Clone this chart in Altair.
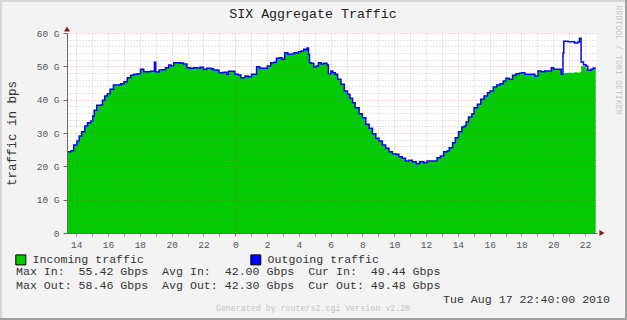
import altair as alt
import pandas as pd

NB = "\u00a0"
FONT = "Liberation Mono"

# ---- data (hours since Aug 16 00:00, values in Gbps) ----
hours = [
    13.42, 13.67, 13.84, 14.04, 14.19, 14.34, 14.54, 14.71, 14.92, 15.04,
    15.13, 15.29, 15.54, 15.65, 15.79, 15.96, 16.13, 16.34, 16.59, 16.79,
    17.00, 17.21, 17.42, 17.63, 17.84, 18.04, 18.25, 18.46, 18.67, 18.84,
    18.92, 19.00, 19.09, 19.21, 19.40, 19.61, 19.82, 19.96, 20.13, 20.34,
    20.54, 20.75, 20.96, 21.17, 21.38, 21.59, 21.79, 22.00, 22.21, 22.48,
    22.63, 22.90, 22.98, 23.25, 23.46, 23.57, 23.88, 23.98, 24.19, 24.36,
    24.61, 24.81, 25.02, 25.19, 25.34, 25.54, 25.86, 26.02, 26.23, 26.44,
    26.59, 26.79, 26.94, 27.11, 27.31, 27.52, 27.69, 27.84, 27.98, 28.15,
    28.31, 28.46, 28.52, 28.61, 28.67, 28.77, 28.94, 29.09, 29.23, 29.40,
    29.56, 29.77, 29.86, 30.02, 30.13, 30.29, 30.44, 30.65, 30.86, 31.06,
    31.21, 31.38, 31.54, 31.79, 32.00, 32.21, 32.42, 32.63, 32.84, 33.04,
    33.25, 33.46, 33.67, 33.88, 34.09, 34.29, 34.50, 34.71, 34.92, 35.13,
    35.38, 35.59, 35.86, 36.06, 36.27, 36.48, 36.69, 36.90, 37.11, 37.32,
    37.46, 37.67, 37.84, 38.04, 38.25, 38.40, 38.52, 38.67, 38.88, 39.02,
    39.23, 39.44, 39.65, 39.86, 40.02, 40.23, 40.44, 40.65, 40.86, 41.02,
    41.23, 41.44, 41.65, 41.86, 42.00, 42.21, 42.42, 42.63, 42.84, 43.04,
    43.25, 43.46, 43.73, 43.88, 44.02, 44.19, 44.40, 44.50, 44.61, 44.66,
    44.92, 45.13, 45.34, 45.54, 45.65, 45.75, 45.90, 46.06, 46.17, 46.38,
    46.52, 46.67,
]
incoming = [
    24.3, 24.6, 26.3, 27.5, 29.0, 30.3, 32.0, 33.0, 33.5, 35.0,
    36.7, 38.2, 38.3, 39.7, 41.0, 41.7, 43.0, 44.3, 44.3, 44.7,
    45.3, 46.5, 47.2, 47.5, 47.7, 49.0, 48.3, 48.3, 48.4, 48.4,
    48.2, 48.2, 48.2, 48.8, 48.9, 49.5, 50.3, 50.0, 51.0, 51.0,
    51.0, 50.6, 49.5, 49.3, 49.5, 49.4, 49.6, 49.0, 49.3, 49.2,
    48.8, 48.7, 48.0, 48.1, 47.5, 48.4, 48.4, 47.5, 47.3, 46.5,
    47.0, 46.8, 47.5, 47.5, 49.8, 49.3, 49.3, 50.0, 51.0, 51.1,
    52.3, 52.5, 52.0, 54.0, 53.5, 53.6, 54.0, 53.8, 54.3, 54.5,
    55.0, 54.8, 55.4, 53.5, 51.0, 50.8, 49.7, 50.0, 51.0, 50.6,
    50.8, 50.3, 47.7, 48.5, 48.0, 47.5, 46.0, 44.5, 42.5, 41.5,
    40.3, 39.0, 37.5, 35.7, 34.5, 32.5, 31.3, 29.7, 28.3, 27.5,
    26.3, 25.3, 24.3, 23.7, 23.5, 22.8, 22.3, 21.5, 21.7, 21.3,
    20.7, 21.3, 21.0, 21.5, 21.5, 21.5, 22.5, 23.0, 24.3, 24.5,
    25.5, 27.0, 28.5, 30.3, 31.7, 32.0, 33.2, 34.7, 35.7, 37.5,
    38.5, 40.0, 41.0, 42.0, 42.5, 43.7, 44.3, 44.7, 45.5, 46.3,
    46.0, 47.2, 47.7, 47.8, 48.0, 47.5, 47.5, 47.5, 47.0, 48.5,
    48.3, 48.5, 48.5, 49.5, 49.0, 49.0, 49.0, 47.5, 47.5, 48.0,
    48.1, 48.1, 48.2, 48.1, 48.3, 50.0, 50.0, 49.5, 48.7, 49.0,
    49.4, 49.4,
]
outgoing = [
    24.4, 24.7, 26.4, 27.6, 29.1, 30.4, 32.1, 33.1, 33.6, 35.1,
    36.8, 38.3, 38.4, 39.8, 41.1, 41.8, 43.1, 44.4, 44.4, 44.8,
    45.4, 46.6, 47.3, 47.6, 47.8, 49.1, 48.4, 48.4, 48.5, 48.5,
    51.2, 48.3, 48.3, 48.9, 49.0, 49.6, 50.4, 50.1, 51.1, 51.1,
    51.0, 50.7, 49.6, 49.4, 49.6, 49.5, 49.7, 49.1, 49.4, 49.3,
    48.9, 48.8, 48.1, 48.2, 47.6, 48.5, 48.5, 47.6, 47.4, 46.6,
    47.1, 46.9, 47.6, 47.6, 49.9, 49.4, 49.4, 50.1, 51.1, 51.2,
    52.4, 52.6, 52.1, 54.1, 53.6, 53.7, 54.1, 53.9, 54.4, 54.6,
    55.1, 54.9, 55.5, 53.6, 51.1, 50.9, 49.8, 50.1, 51.1, 50.7,
    50.9, 50.4, 47.8, 48.6, 48.1, 47.6, 46.1, 44.6, 42.6, 41.6,
    40.4, 39.1, 37.6, 35.8, 34.6, 32.6, 31.4, 29.8, 28.4, 27.6,
    26.4, 25.4, 24.4, 23.8, 23.6, 22.9, 22.4, 21.6, 21.8, 21.4,
    20.8, 21.4, 21.1, 21.6, 21.6, 21.6, 22.6, 23.1, 24.4, 24.6,
    25.6, 27.1, 28.6, 30.4, 31.8, 32.1, 33.3, 34.8, 35.8, 37.6,
    38.6, 40.1, 41.1, 42.1, 42.6, 43.8, 44.4, 44.8, 45.6, 46.4,
    46.1, 47.3, 47.8, 47.9, 48.1, 47.6, 47.6, 47.6, 47.1, 48.6,
    48.4, 48.6, 48.6, 49.6, 49.1, 49.1, 49.1, 47.6, 54.0, 57.5,
    57.4, 57.4, 57.0, 57.3, 58.4, 51.3, 50.5, 50.0, 48.8, 49.1,
    49.5, 49.5,
]

series_names = ["Incoming traffic", "Outgoing traffic"]
series_colors = ["#00cc00", "#0000ff"]

title_text = "SIX Aggregate Traffic"
y_title = "traffic in bps"
stats_in = "Max In:  55.42 Gbps  Avg In:  42.00 Gbps  Cur In:  49.44 Gbps"
stats_out = "Max Out: 58.46 Gbps  Avg Out: 42.30 Gbps  Cur Out: 49.48 Gbps"
stamp = "Tue Aug 17 22:40:00 2010"
generated = "Generated by routers2.cgi Version v2.20"
watermark = "RRDTOOL / TOBI OETIKER"

x_domain = [13.42, 46.75]
y_domain = [0, 60]
hour_ticks = list(range(14, 47))
gb_ticks = list(range(0, 61, 2))

W, H = 530, 200
PAD = {"left": 67, "top": 33, "right": 30, "bottom": 87}

df = pd.DataFrame({"hour": hours, "incoming": incoming, "outgoing": outgoing})
df["series"] = series_names[0]
one = pd.DataFrame({"k": [0]})


def nb(s):
    return s.replace(" ", NB)


x_axis = alt.Axis(
    values=hour_ticks, title=None, grid=True, gridDash=[1, 2],
    gridColor={"condition": {"test": "datum.value % 24 === 0", "value": "#d03030"}, "value": "#777777"},
    gridOpacity=0.4,
    labelExpr="datum.value % 2 === 0 ? '' + (datum.value % 24) : ''",
    labelFont=FONT, labelFontSize=9.5, labelColor="#555555", labelPadding=3,
    labelOverlap=False, labelFlush=False, labelBound=False,
    tickSize=3,
    tickColor={"condition": {"test": "datum.value % 24 === 0", "value": "#d04040"}, "value": "#999999"},
    domainColor="#666666", zindex=1,
)
y_axis = alt.Axis(
    values=gb_ticks, title=y_title, titleFont=FONT, titleFontSize=12.5,
    titleFontWeight="normal", titleColor="#333333", titlePadding=18,
    grid=True, gridDash=[1, 2],
    gridColor={"condition": {"test": "datum.value % 10 === 0", "value": "#d03030"}, "value": "#777777"},
    gridOpacity=0.4,
    labelExpr="datum.value % 10 !== 0 ? '' : (datum.value === 0 ? '0" + NB + NB
              + "' : datum.value + '" + NB + "G')",
    labelFont=FONT, labelFontSize=9.5, labelColor="#555555", labelPadding=4,
    labelOverlap=False, labelFlush=False, labelBound=False,
    tickSize=4,
    tickColor={"condition": {"test": "datum.value % 10 === 0", "value": "#666666"}, "value": "transparent"},
    domainColor="#666666", zindex=1,
)

x_scale = alt.Scale(domain=x_domain, nice=False, zero=False)
y_scale = alt.Scale(domain=y_domain, nice=False)

area = alt.Chart(df).mark_area(interpolate="step-after").encode(
    x=alt.X("hour:Q", scale=x_scale, axis=x_axis),
    y=alt.Y("incoming:Q", scale=y_scale, axis=y_axis),
    fill=alt.Fill(
        "series:N",
        scale=alt.Scale(domain=series_names, range=series_colors),
        legend=alt.Legend(
            title=None, orient="none", legendX=-52, legendY=221,
            direction="horizontal", symbolType="square", symbolSize=100,
            symbolStrokeColor="#000000", symbolStrokeWidth=1, symbolOpacity=1,
            labelFont=FONT, labelFontSize=11.6, labelColor="#333333",
            labelOffset=6, columnPadding=104, padding=0, labelLimit=300,
        ),
    ),
)

line = alt.Chart(df).mark_line(interpolate="step-after", color="#0000ff", strokeWidth=1.5).encode(
    x=alt.X("hour:Q", scale=x_scale, axis=x_axis),
    y=alt.Y("outgoing:Q", scale=y_scale, axis=y_axis),
)

arrow_up = alt.Chart(one).mark_point(shape="triangle-up", filled=True, color="#8b1a1a",
                                     size=36, opacity=1).encode(x=alt.value(0), y=alt.value(-4))
arrow_right = alt.Chart(one).mark_point(shape="triangle-right", filled=True, color="#8b1a1a",
                                        size=36, opacity=1).encode(x=alt.value(535), y=alt.value(200))


def label(text, x, y, align="left", size=11.6, color="#333333", angle=0):
    return alt.Chart(one).mark_text(
        text=nb(text), font=FONT, fontSize=size, color=color, align=align,
        baseline="middle", angle=angle,
    ).encode(x=alt.value(x), y=alt.value(y))


texts = [
    label(title_text, 246, -19, align="center", size=13.3, color="#222222"),
    label(stats_in, -51, 238.7),
    label(stats_out, -51, 253.2),
    label(stamp, 543, 266.8, align="right"),
    label(generated, 246, 276.3, align="center", size=8.3, color="#c4c4c4"),
    label(watermark, 551, 27, align="center", size=8.3, color="#c8c8c8", angle=90),
]

frame = [
    alt.Chart(one).mark_rule(color="#d6d6d6", strokeWidth=2).encode(
        x=alt.value(-67), x2=alt.value(560), y=alt.value(-32)),
    alt.Chart(one).mark_rule(color="#d6d6d6", strokeWidth=2).encode(
        x=alt.value(-66), y=alt.value(-33), y2=alt.value(287)),
    alt.Chart(one).mark_rule(color="#a0a0a0", strokeWidth=2).encode(
        x=alt.value(559), y=alt.value(-33), y2=alt.value(287)),
    alt.Chart(one).mark_rule(color="#a0a0a0", strokeWidth=2).encode(
        x=alt.value(-67), x2=alt.value(560), y=alt.value(286)),
]

chart = alt.layer(area, line, arrow_up, arrow_right, *texts, *frame).properties(
    width=W, height=H,
    autosize=alt.AutoSizeParams(type="none"),
    padding=PAD,
).configure(background="#f3f3f3").configure_view(fill="#ffffff", stroke=None)

chart.save("out.html", embed_options={"renderer": "svg", "actions": False})
